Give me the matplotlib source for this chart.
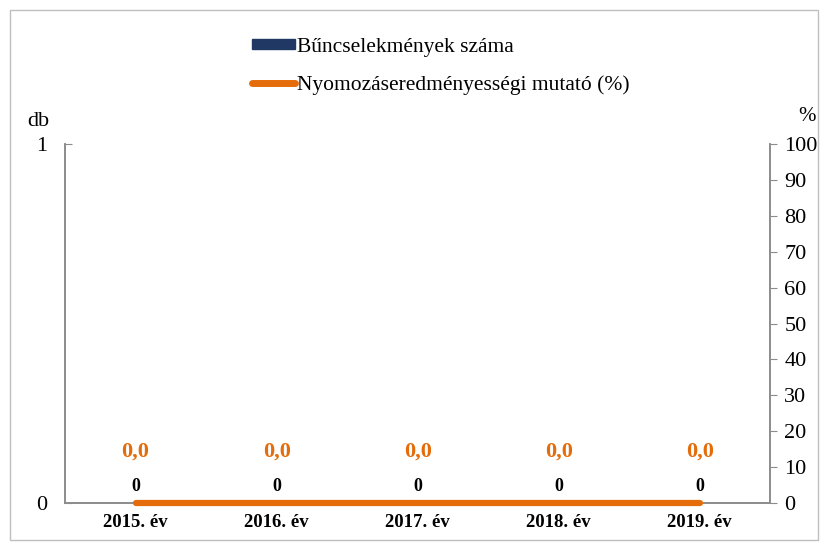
import matplotlib
matplotlib.use("Agg")
from matplotlib import pyplot as plt
from matplotlib.patches import Rectangle
from matplotlib.lines import Line2D
from matplotlib.patches import Patch

years = ["2015. év", "2016. év", "2017. év", "2018. év", "2019. év"]
crimes = [0, 0, 0, 0, 0]          # Bűncselekmények száma (db)
rate = [0.0, 0.0, 0.0, 0.0, 0.0]  # Nyomozáseredményességi mutató (%)

NAVY = "#1f3864"
ORANGE = "#e46c0a"
GRAY = "#8c8c8c"

plt.rcParams['font.family'] = ['Liberation Serif', 'DejaVu Serif']

fig = plt.figure(figsize=(8.23, 5.42), dpi=100)
fig.patches.append(Rectangle((0.012, 0.004), 0.982, 0.978, transform=fig.transFigure,
                             fill=False, edgecolor="#bfbfbf", lw=1))

ax = fig.add_axes([0.079, 0.072, 0.857, 0.662])
ax2 = ax.twinx()

x = list(range(len(years)))
ax.bar(x, crimes, width=0.5, color=NAVY)
for xi, v in zip(x, crimes):
    ax.annotate(f"{v}", (xi, v), xytext=(0, 6), textcoords="offset points",
                ha="center", va="bottom", fontsize=13, fontweight="bold")

ax2.plot(x, rate, color=ORANGE, lw=4.5, solid_capstyle="round", clip_on=False, zorder=5)
for xi, v in zip(x, rate):
    ax2.annotate(f"{v:.1f}".replace(".", ","), (xi, v), xytext=(0, 30),
                 textcoords="offset points", ha="center", va="bottom",
                 fontsize=16, fontweight="bold", color=ORANGE)

ax.set_xlim(-0.5, len(years) - 0.5)
ax.set_ylim(0, 1)
ax.set_yticks([0, 1])
ax2.set_ylim(0, 100)
ax2.set_yticks(range(0, 101, 10))
ax.set_xticks(x)
ax.set_xticklabels(years, fontsize=13.5, fontweight="bold")
ax.tick_params(axis="x", length=0, pad=8)
ax.tick_params(axis="y", direction="in", length=5, color=GRAY, labelsize=16, pad=13)
ax2.tick_params(axis="y", direction="out", length=5, color=GRAY, labelsize=16, pad=5)

for a in (ax, ax2):
    a.spines["top"].set_visible(False)
    for s in ("left", "right", "bottom"):
        a.spines[s].set_color(GRAY)
        a.spines[s].set_linewidth(1.2)

fig.text(0.046, 0.776, "db", fontsize=16, ha="center", va="center")
fig.text(0.981, 0.785, "%", fontsize=15, ha="center", va="center")

handles = [Patch(facecolor=NAVY, edgecolor=NAVY),
           Line2D([0], [0], color=ORANGE, lw=5, solid_capstyle="round")]
fig.legend(handles, ["Bűncselekmények száma", "Nyomozáseredményességi mutató (%)"],
           loc="upper left", bbox_to_anchor=(0.283, 0.966), frameon=False,
           fontsize=15.5, handlelength=2.0, handleheight=0.35, handletextpad=0.1,
           labelspacing=0.85)

fig.savefig("out.png", dpi=100)
